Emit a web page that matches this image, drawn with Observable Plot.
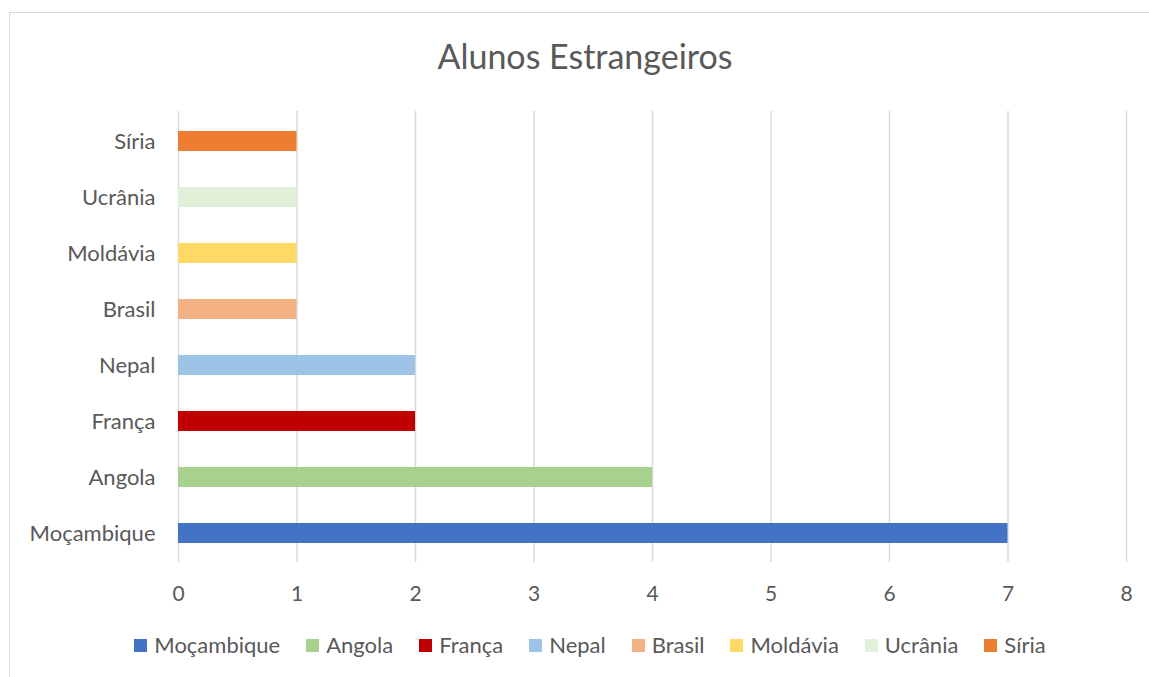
<!DOCTYPE html>
<html>
<head>
<meta charset="utf-8">
<script src="https://cdn.jsdelivr.net/npm/d3@7"></script>
<script src="https://cdn.jsdelivr.net/npm/@observablehq/plot@0.6"></script>
<style>
  html, body { margin: 0; padding: 0; background: #fff; }
  #wrap { position: relative; width: 1149px; height: 677px; overflow: hidden; font-family: Lato, "Open Sans", sans-serif; color: #595959; }
  #frame { position: absolute; left: 9px; top: 12px; width: 1160px; height: 700px; border: 1.5px solid #d9d9d9; box-sizing: border-box; }
  #title { position: absolute; left: 0; top: 36px; width: 1170px; text-align: center; font-size: 34px; line-height: 40px; color: #595959; }
  #chart { position: absolute; left: 0; top: 1px; }
  #legend { position: absolute; left: 0; top: 631px; width: 1180px; display: flex; justify-content: center; gap: 26px; font-size: 22px; line-height: 28px; }
  #legend .it { display: flex; align-items: center; gap: 7px; }
  #legend .sw { width: 13px; height: 13px; display: inline-block; }
</style>
</head>
<body>
<div id="wrap">
  <div id="frame"></div>
  <div id="title">Alunos Estrangeiros</div>
  <div id="chart"></div>
  <div id="legend"></div>
</div>
<script>
const countries = ["Moçambique", "Angola", "França", "Nepal", "Brasil", "Moldávia", "Ucrânia", "Síria"];
const students = [7, 4, 2, 2, 1, 1, 1, 1];
const colors = ["#4472C4", "#A9D18E", "#C00000", "#9DC3E6", "#F4B183", "#FFD966", "#E2F0D9", "#ED7D31"];
const xTicks = [0, 1, 2, 3, 4, 5, 6, 7, 8];

const data = countries.map((c, i) => ({country: c, value: students[i]}));

const chart = Plot.plot({
  width: 1149,
  height: 620,
  marginTop: 110,
  marginBottom: 59,
  marginLeft: 178,
  marginRight: 23,
  style: {fontFamily: "Lato, 'Open Sans', sans-serif", fontSize: "22px", color: "#595959", background: "transparent"},
  x: {domain: [0, 8], ticks: xTicks, label: null, tickSize: 0, tickPadding: 25},
  y: {domain: countries.slice().reverse(), label: null, tickSize: 0, tickPadding: 23, paddingInner: 0.644, paddingOuter: 0.322},
  color: {domain: countries, range: colors},
  marks: [
    Plot.gridX(xTicks, {stroke: "#d9d9d9", strokeOpacity: 1, strokeWidth: 1.5}),
    Plot.barX(data, {x: "value", y: "country", fill: "country"}),
    Plot.axisX({ticks: xTicks, tickSize: 0, tickPadding: 24, fontSize: 21, fill: "#595959", label: null}),
    Plot.axisY({tickSize: 0, tickPadding: 23, fontSize: 22, fill: "#595959", label: null})
  ]
});
document.getElementById("chart").appendChild(chart);

const legend = document.getElementById("legend");
countries.forEach((c, i) => {
  const it = document.createElement("div");
  it.className = "it";
  const sw = document.createElement("span");
  sw.className = "sw";
  sw.style.background = colors[i];
  const t = document.createElement("span");
  t.textContent = c;
  it.appendChild(sw);
  it.appendChild(t);
  legend.appendChild(it);
});
</script>
</body>
</html>
